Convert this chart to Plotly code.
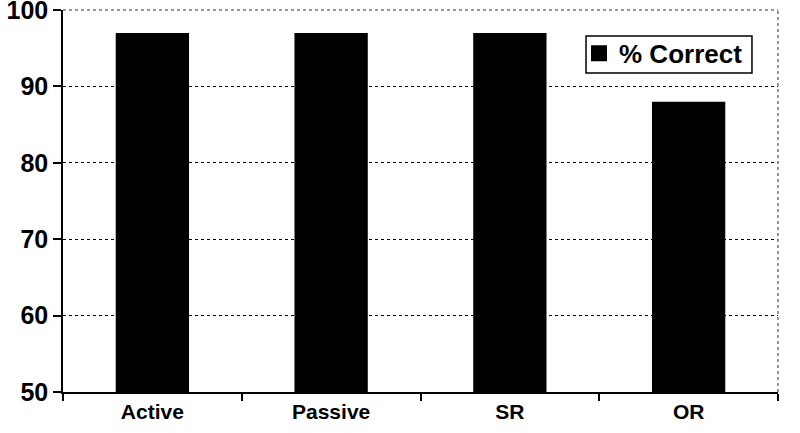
import plotly.graph_objects as go

categories = ["Active", "Passive", "SR", "OR"]
pct_correct = [97, 97, 97, 88]
y_ticks = [50, 60, 70, 80, 90, 100]

fig = go.Figure()
fig.add_trace(go.Bar(
    x=categories, y=pct_correct, name="% Correct",
    marker=dict(color="black", line=dict(width=0)),
    width=0.41, showlegend=False,
))
# legend entry (square swatch)
fig.add_trace(go.Scatter(
    x=[None], y=[None], mode="markers", name="% Correct",
    marker=dict(symbol="square", size=20, color="black"),
    showlegend=True,
))

fig.update_layout(
    width=800, height=433,
    margin=dict(l=63, r=22, t=10, b=41, autoexpand=False),
    paper_bgcolor="white", plot_bgcolor="white",
    font=dict(family="Liberation Sans, Arial, sans-serif", color="black", size=21),
    showlegend=True,
    legend=dict(
        x=0.7217, y=0.948, xanchor="left", yanchor="top",
        borderwidth=0, bgcolor="rgba(0,0,0,0)",
        font=dict(size=26, family="Liberation Sans, Arial, sans-serif", weight="bold"),
        itemwidth=30, itemsizing="trace", tracegroupgap=0,
    ),
    xaxis=dict(
        showline=True, linecolor="black", linewidth=1.5,
        ticks="outside", tickson="boundaries", ticklen=7, tickcolor="black", tickwidth=1.5,
        tickfont=dict(size=21, weight="bold"),
        showgrid=False, zeroline=False, automargin=False,
    ),
    yaxis=dict(
        range=[50, 100], tickvals=y_ticks,
        showline=True, linecolor="black", linewidth=1.5,
        ticks="outside", ticklen=8, tickcolor="black", tickwidth=1.5,
        tickfont=dict(size=25, weight="bold"), ticklabeloverflow="allow",
        showgrid=True, gridcolor="black", gridwidth=1.2, griddash="dot",
        zeroline=False, automargin=False,
    ),
)

# plot-area border (top and right), dotted gray as in the original
fig.add_shape(type="line", xref="paper", yref="paper", x0=0, x1=1, y0=1, y1=1,
              line=dict(color="#777777", width=1.5, dash="dot"))
fig.add_shape(type="line", xref="paper", yref="paper", x0=1, x1=1, y0=0, y1=1,
              line=dict(color="#777777", width=1.5, dash="dot"))
# legend frame
fig.add_shape(type="rect", xref="paper", yref="paper",
              x0=0.7315, x1=0.9636, y0=0.835, y1=0.932,
              line=dict(color="black", width=1.5), fillcolor="white", layer="above")

fig.write_html("out.html", config={"displayModeBar": False},
               post_script="document.body.style.margin='0';")
